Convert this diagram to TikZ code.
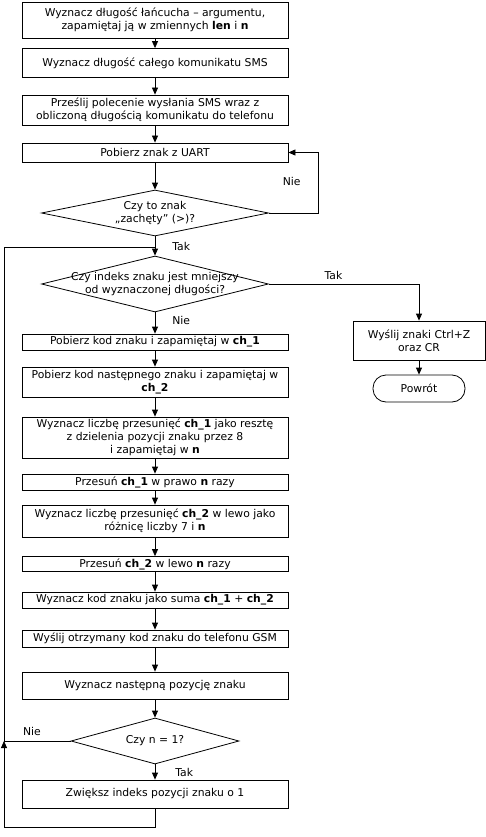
\documentclass[tikz,border=0pt]{standalone}
\usepackage{fontspec}
\setmainfont{DejaVu Sans}
\usetikzlibrary{shapes.geometric,arrows.meta}

\begin{document}
\begin{tikzpicture}
		[x=1pt, y=-1pt, line width=0.8pt,
		every node/.style={font=\fontsize{10.8}{12.8}\selectfont, align=center},
		box/.style={draw, rectangle, minimum width=266pt, inner sep=0pt},
		decision/.style={draw, diamond, minimum width=227pt, minimum height=46pt, inner sep=0pt},
		terminal/.style={draw, rectangle, rounded corners=13pt, minimum width=92pt, minimum height=27pt, inner sep=0pt},
		lbl/.style={inner sep=0pt},
		arrow/.style={-{Triangle[length=7pt,width=6pt]}},
		]

		\useasboundingbox (0,0) rectangle (486,837);

		\node[box, minimum height=36pt] (b1) at (155,20) {Wyznacz długość łańcucha – argumentu,\\zapamiętaj ją w zmiennych \textbf{len} i \textbf{n}};
		\node[box, minimum height=29pt] (b2) at (155,63) {Wyznacz długość całego komunikatu SMS};
		\node[box, minimum height=30pt] (b3) at (155,110) {Prześlij polecenie wysłania SMS wraz z\\obliczoną długością komunikatu do telefonu};
		\node[box, minimum height=19pt] (b4) at (155,152.5) {Pobierz znak z UART};
		\node[decision] (d1) at (155,213) {};
		\node[lbl] (t1) at (d1) {Czy to znak\\„zachęty” (>)?};
		\node[decision, minimum height=56pt] (d2) at (155,284) {};
		\node[lbl] (t2) at (d2) {Czy indeks znaku jest mniejszy\\od wyznaczonej długości?};
		\node[draw, rectangle, minimum width=132pt, minimum height=39pt, inner sep=0pt] (ret) at (419,340.5) {Wyślij znaki Ctrl+Z\\oraz CR};
		\node[terminal] (end) at (419,388.5) {Powrót};
		\node[box, minimum height=16pt] (b5) at (155,342) {Pobierz kod znaku i zapamiętaj w \textbf{ch\_1}};
		\node[box, minimum height=30pt] (b6) at (155,382) {Pobierz kod następnego znaku i zapamiętaj w\\\textbf{ch\_2}};
		\node[box, minimum height=41pt] (b7) at (155,437.5) {Wyznacz liczbę przesunięć \textbf{ch\_1} jako resztę\\z dzielenia pozycji znaku przez 8\\i zapamiętaj w \textbf{n}};
		\node[box, minimum height=16pt] (b8) at (155,482) {Przesuń \textbf{ch\_1} w prawo \textbf{n} razy};
		\node[box, minimum height=32pt] (b9) at (155,521) {Wyznacz liczbę przesunięć \textbf{ch\_2} w lewo jako\\różnicę liczby 7 i \textbf{n}};
		\node[box, minimum height=15pt] (b10) at (155,564) {Przesuń \textbf{ch\_2} w lewo \textbf{n} razy};
		\node[box, minimum height=16pt] (b11) at (155,600) {Wyznacz kod znaku jako suma \textbf{ch\_1} + \textbf{ch\_2}};
		\node[box, minimum height=17pt] (b12) at (155,638.5) {Wyślij otrzymany kod znaku do telefonu GSM};
		\node[box, minimum height=27pt] (b13) at (155,685.5) {Wyznacz następną pozycję znaku};
		\node[decision, minimum width=168pt] (d3) at (155,741) {};
		\node[lbl] (t3) at (d3) {Czy n = 1?};
		\node[box, minimum height=28pt] (b14) at (155,794) {Zwiększ indeks pozycji znaku o 1};

		% punkty pomocnicze petli
		\coordinate (j) at (155,247);
		\coordinate (lp) at (4,741);

		\draw[arrow] (b1) -- (b2);
		\draw[arrow] (b2) -- (b3);
		\draw[arrow] (b3) -- (b4);
		\draw[arrow] (b4) -- (d1);
		\draw[arrow] (d1.east) -- ++(49,0) |- node[lbl, pos=0.26, left=17pt]{Nie} (b4.east);
		\draw[arrow] (d1) -- node[lbl, midway, right=17pt]{Tak} (d2);
		\draw[arrow] (d2.east) -| node[lbl, pos=0.215, above=4pt]{Tak} (ret.north);
		\draw[arrow] (ret) -- (end);
		\draw[arrow] (d2) -- node[lbl, pos=0.4, right=17pt]{Nie} (b5);
		\foreach \a/\b in {b5/b6, b6/b7, b7/b8, b8/b9, b9/b10, b10/b11, b11/b12, b12/b13, b13/d3}
			\draw[arrow] (\a) -- (\b);
		\draw[arrow] (d3) -- node[lbl, midway, right=20pt]{Tak} (b14);
		\draw[arrow] (b14.south) -- ++(0,19) -| (lp);
		\draw (d3.west) -- node[lbl, pos=0.58, above=5pt]{Nie} (lp) |- (j);
	\end{tikzpicture}
\end{document}
